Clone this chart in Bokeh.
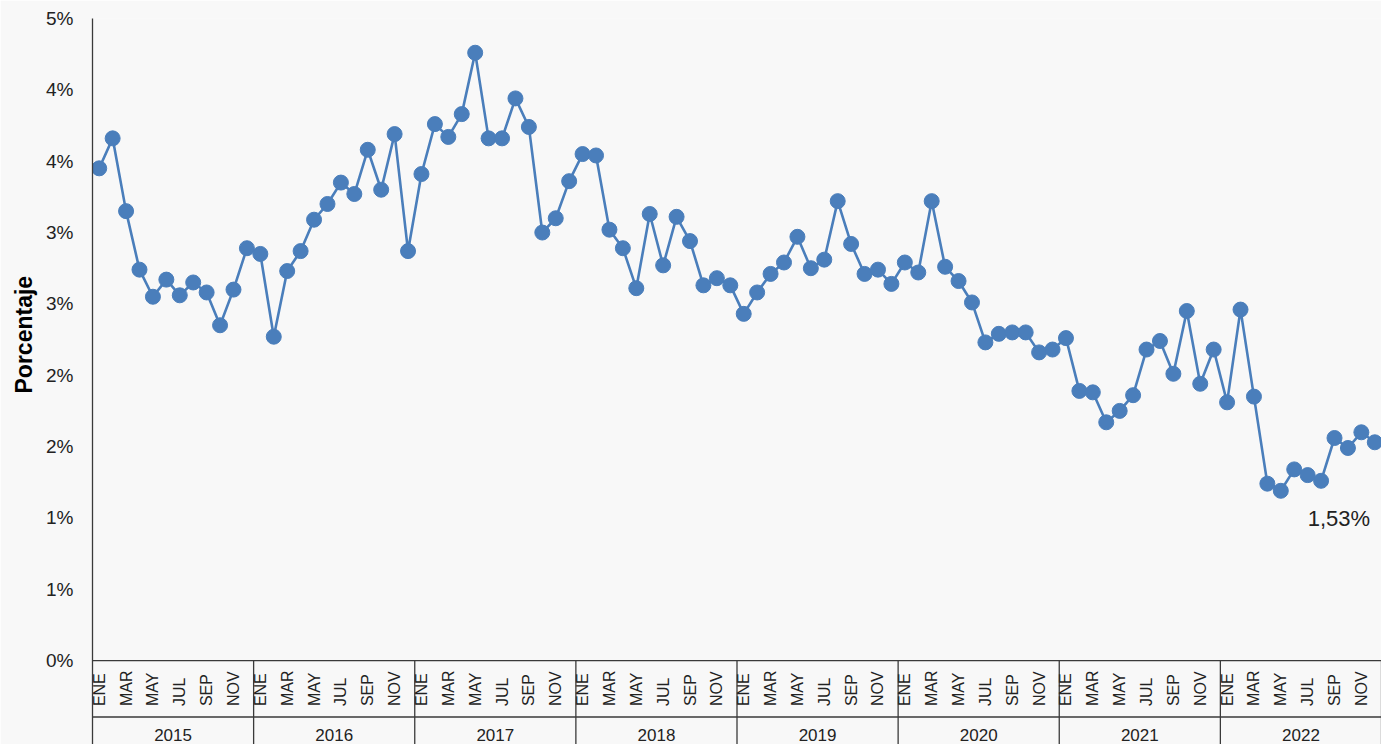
import math
from bokeh.plotting import figure
from bokeh.models import Range1d, FixedTicker, Span, Title, ColumnDataSource
from bokeh.core.properties import value
from bokeh.embed import file_html
from bokeh.resources import INLINE

# ---------------- data ----------------
years = [2015, 2016, 2017, 2018, 2019, 2020, 2021, 2022]
months = ["ENE", "FEB", "MAR", "ABR", "MAY", "JUN", "JUL", "AGO", "SEP", "OCT", "NOV", "DIC"]
shown_months = ["ENE", "MAR", "MAY", "JUL", "SEP", "NOV"]

v2015 = [3.45, 3.66, 3.15, 2.74, 2.55, 2.67, 2.56, 2.65, 2.58, 2.35, 2.60, 2.89]
v2016 = [2.85, 2.27, 2.73, 2.87, 3.09, 3.20, 3.35, 3.27, 3.58, 3.30, 3.69, 2.87]
v2017 = [3.41, 3.76, 3.67, 3.83, 4.26, 3.66, 3.66, 3.94, 3.74, 3.00, 3.10, 3.36]
v2018 = [3.55, 3.54, 3.02, 2.89, 2.61, 3.13, 2.77, 3.11, 2.94, 2.63, 2.68, 2.63]
v2019 = [2.43, 2.58, 2.71, 2.79, 2.97, 2.75, 2.81, 3.22, 2.92, 2.71, 2.74, 2.64]
v2020 = [2.79, 2.72, 3.22, 2.76, 2.66, 2.51, 2.23, 2.29, 2.30, 2.30, 2.16, 2.18]
v2021 = [2.26, 1.89, 1.88, 1.67, 1.75, 1.86, 2.18, 2.24, 2.01, 2.45, 1.94, 2.18]
v2022 = [1.81, 2.46, 1.85, 1.24, 1.19, 1.34, 1.30, 1.26, 1.56, 1.49, 1.60, 1.53]
series = [v2015, v2016, v2017, v2018, v2019, v2020, v2021, v2022]

y_ticks = [0.0, 0.5, 1.0, 1.5, 2.0, 2.5, 3.0, 3.5, 4.0, 4.5]
y_tick_labels = ["0%", "1%", "1%", "2%", "2%", "3%", "3%", "4%", "4%", "5%"]
y_title = "Porcentaje"

# ---------------- layout / style ----------------
W, H = 1381, 744
SX, SY = W / 1389, H / 752          # reference-pixel -> canvas-pixel factors
LEFT = round(93 * SX)
TOP = round(18 * SY)
Y_MAX = 4.5
PX = (667 - 18) * SY / Y_MAX        # pixels per percentage point
Y_MIN = Y_MAX - (H - TOP) / PX      # frame extends down through the category band
MONTH_PX, SEP_PX, YEAR_PX = 46 * SY, 57 * SY, 75 * SY
TITLE_OFFSET = round((752 - 397) * SY)
FONT = "Liberation Sans"
BLUE = "#4a7ebb"
AXIS = "#3a3a3a"
TXT = "#222222"
BG = "#f8f8f8"

n = len(months)
xs, ys = [], []
for k, vals in enumerate(series):
    for i, v in enumerate(vals):
        xs.append(k * n + i + 0.5)
        ys.append(v)
src = ColumnDataSource(dict(x=xs, y=ys))

p = figure(width=W, height=H, output_backend="svg", toolbar_location=None,
           x_range=Range1d(0, len(years) * n), y_range=Range1d(Y_MIN, Y_MAX),
           x_axis_location=None, min_border_left=LEFT, min_border_right=0,
           min_border_top=TOP, min_border_bottom=0)
p.background_fill_color = BG
p.border_fill_color = BG
p.outline_line_color = None
p.grid.visible = False

ya = p.yaxis[0]
ya.ticker = FixedTicker(ticks=y_ticks, minor_ticks=[])
ya.major_label_overrides = {t: l for t, l in zip(y_ticks, y_tick_labels)}
ya.major_tick_out = 0
ya.major_tick_in = 0
ya.minor_tick_out = 0
ya.minor_tick_in = 0
ya.major_label_standoff = 19
ya.major_label_text_font = FONT
ya.major_label_text_font_size = "19px"
ya.major_label_text_color = TXT
ya.axis_line_color = AXIS
ya.axis_line_width = 1.3

# axis title on the left, placed a little above the frame centre like the reference
p.add_layout(Title(text=y_title, align="left", offset=TITLE_OFFSET, standoff=14,
                   text_font=FONT, text_font_size="23px", text_font_style="bold",
                   text_line_height=0.75, text_color="#000000"), "left")

# category band below the plot
p.add_layout(Span(location=0, dimension="width", line_color=AXIS, line_width=1.3))
p.add_layout(Span(location=-SEP_PX / PX, dimension="width", line_color=AXIS, line_width=1.3))
bounds = [k * n for k in range(1, len(years) + 1)]
p.segment(x0=bounds, y0=[0] * len(bounds), x1=bounds, y1=[Y_MIN] * len(bounds),
          line_color=AXIS, line_width=1.3)

mx, mt = [], []
for k in range(len(years)):
    for i, m in enumerate(months):
        if m in shown_months:
            mx.append(k * n + i + 0.5)
            mt.append(m)
p.text(x=mx, y=[-MONTH_PX / PX] * len(mx), text=mt, angle=math.pi / 2,
       text_align="left", text_baseline="middle", text_font=value(FONT),
       text_font_size="16px", text_color=TXT)
p.text(x=[k * n + n / 2 for k in range(len(years))], y=[-YEAR_PX / PX] * len(years),
       text=[str(y) for y in years], text_align="center", text_baseline="middle",
       text_font=value(FONT), text_font_size="17px", text_color=TXT)

# series
p.line("x", "y", source=src, line_color=BLUE, line_width=2.6)
p.scatter("x", "y", source=src, size=15, fill_color=BLUE, line_color=BLUE)

# last value annotation
last = ys[-1]
p.text(x=[xs[-1] - 0.35], y=[last - 77 * SY / PX],
       text=[("%.2f%%" % last).replace(".", ",")], text_align="right",
       text_baseline="middle", text_font=value(FONT), text_font_size="22px",
       text_color=TXT)

open("out.html", "w").write(file_html(p, INLINE))
